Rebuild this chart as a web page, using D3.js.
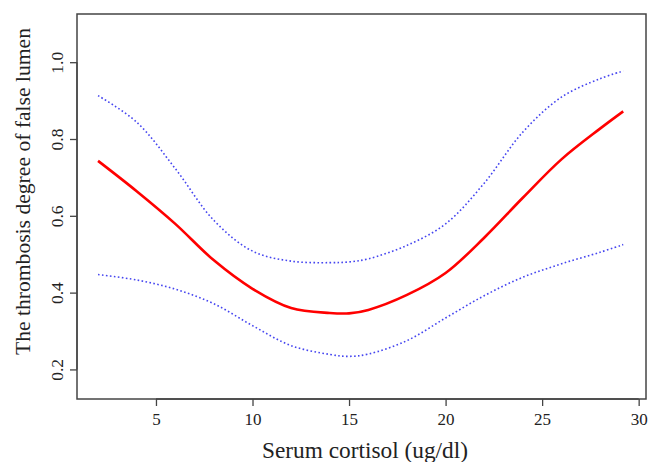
<!DOCTYPE html>
<html><head><meta charset="utf-8">
<script src="https://cdn.jsdelivr.net/npm/d3@7"></script>
<style>body{margin:0;background:#fff}svg{display:block}</style>
</head><body>
<script>
const xValues = [2,4,6,8,10,12,14,15,16,18,20,22,24,26,28,29.2];
const fitValues = [0.743,0.664,0.579,0.484,0.410,0.360,0.347,0.346,0.355,0.394,0.451,0.543,0.647,0.747,0.827,0.872];
const upperValues = [0.913,0.844,0.723,0.588,0.508,0.482,0.478,0.480,0.488,0.523,0.579,0.685,0.818,0.909,0.957,0.977];
const lowerValues = [0.447,0.433,0.409,0.371,0.314,0.262,0.239,0.234,0.240,0.275,0.334,0.392,0.440,0.475,0.505,0.525];
const xTicks = [5,10,15,20,25,30];
const yTicks = [0.2,0.4,0.6,0.8,1.0];
const xTitle = "Serum cortisol (ug/dl)";
const yTitle = "The thrombosis degree of false lumen";

const W = 648, H = 462;
const L = 77, R = 646, T = 14, B = 399;
const svg = d3.select("body").append("svg").attr("width", W).attr("height", H);
const x = d3.scaleLinear().domain([0.91, 30.38]).range([L, R]);
const y = d3.scaleLinear().domain([0.123, 1.1255]).range([B, T]);
const font = "'Liberation Serif','Times New Roman',serif";

const line = (vals) => d3.line().x((d,i)=>x(xValues[i])).y(d=>y(d)).curve(d3.curveCatmullRom.alpha(0.5))(vals);

svg.append("path").attr("d", line(upperValues)).attr("fill","none")
  .attr("stroke","#4545f0").attr("stroke-width",1.6).attr("stroke-dasharray","1.6,2.4");
svg.append("path").attr("d", line(lowerValues)).attr("fill","none")
  .attr("stroke","#4545f0").attr("stroke-width",1.6).attr("stroke-dasharray","1.6,2.4");
svg.append("path").attr("d", line(fitValues)).attr("fill","none")
  .attr("stroke","#ff0000").attr("stroke-width",2.6);

svg.append("rect").attr("x",L).attr("y",T).attr("width",R-L).attr("height",B-T)
  .attr("fill","none").attr("stroke","#444").attr("stroke-width",1.5);

const xAxis = svg.append("g").attr("transform",`translate(0,${B})`)
  .call(d3.axisBottom(x).tickValues(xTicks).tickSize(7).tickPadding(7).tickFormat(d3.format("d")));
xAxis.select(".domain").attr("d", `M${x(5)},0H${x(30)}`).attr("stroke","#444").attr("stroke-width",1.3);
xAxis.selectAll(".tick line").attr("stroke","#444").attr("stroke-width",1.3);
xAxis.selectAll("text").attr("font-family",font).attr("font-size",17).attr("fill","#222");

const yAxis = svg.append("g").attr("transform",`translate(${L},0)`)
  .call(d3.axisLeft(y).tickValues(yTicks).tickSize(7).tickFormat(d3.format(".1f")));
yAxis.select(".domain").attr("d", `M0,${y(0.2)}V${y(1.0)}`).attr("stroke","#444").attr("stroke-width",1.3);
yAxis.selectAll(".tick line").attr("stroke","#444").attr("stroke-width",1.3);
yAxis.selectAll("text").attr("font-family",font).attr("font-size",17.5).attr("fill","#222")
  .attr("x",null).attr("dy",null).attr("text-anchor","middle")
  .attr("transform","translate(-14,0) rotate(-90)");

svg.append("text").attr("x",365).attr("y",458).attr("text-anchor","middle")
  .attr("font-family",font).attr("font-size",23).attr("fill","#222")
  .attr("textLength",206).attr("lengthAdjust","spacingAndGlyphs").text(xTitle);
svg.append("text").attr("transform",`translate(30,191.5) rotate(-90)`).attr("text-anchor","middle")
  .attr("font-family",font).attr("font-size",22).attr("fill","#222")
  .attr("textLength",327).attr("lengthAdjust","spacingAndGlyphs").text(yTitle);
</script>
</body></html>
